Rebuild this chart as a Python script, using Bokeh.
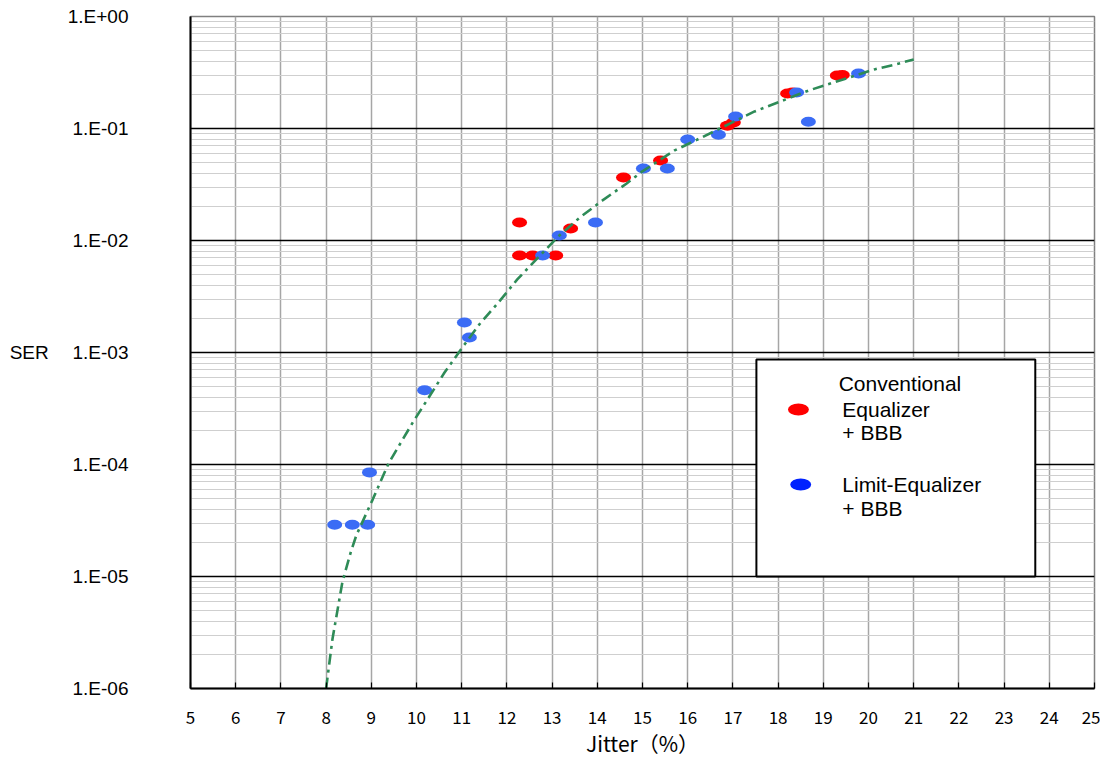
from bokeh.plotting import figure
from bokeh.models import (Range1d, FixedTicker, CustomJSTickFormatter, BoxAnnotation, Label)
from bokeh.embed import file_html
from bokeh.resources import INLINE

# ---------------- data ----------------
x_ticks = list(range(5, 26))
y_exps = [-6, -5, -4, -3, -2, -1, 0]
y_tick_labels = ["1.E-06", "1.E-05", "1.E-04", "1.E-03", "1.E-02", "1.E-01", "1.E+00"]

conv_x = [12.28, 12.28, 12.57, 13.08, 13.41, 14.58, 15.40, 16.88, 17.01, 18.21, 18.32, 19.31, 19.42]
conv_y = [0.0145, 0.00735, 0.00735, 0.00735, 0.0128, 0.0365, 0.0518, 0.106, 0.113, 0.205, 0.21, 0.297, 0.30]

lim_x = [8.19, 8.58, 8.92, 8.96, 10.18, 11.06, 11.17, 12.79, 13.16, 13.96, 15.02, 15.55, 16.00,
         16.68, 17.06, 18.41, 18.67, 19.78]
lim_y = [2.9e-5, 2.9e-5, 2.9e-5, 8.5e-5, 4.6e-4, 1.85e-3, 1.36e-3, 7.35e-3, 1.11e-2, 1.45e-2,
         4.4e-2, 4.4e-2, 7.97e-2, 8.8e-2, 0.128, 0.21, 0.115, 0.31]

fit_x = [8.0, 8.14, 8.36, 8.54, 8.67, 9.03, 9.38, 9.93, 10.27, 10.62, 11.0, 11.39, 11.81, 12.23,
         12.48, 13.14, 13.61, 14.14, 14.65, 14.98, 15.71, 16.31, 17.48, 18.67, 20.13, 20.58, 21.0]
fit_y = [1.0e-6, 2.75e-6, 8.9e-6, 1.62e-5, 2.34e-5, 4.86e-5, 1.02e-4, 2.42e-4, 3.96e-4, 6.62e-4,
         1.09e-3, 1.78e-3, 2.79e-3, 4.49e-3, 5.74e-3, 1.09e-2, 1.60e-2, 2.32e-2, 3.23e-2, 4.1e-2,
         6.37e-2, 8.32e-2, 0.142, 0.218, 0.337, 0.372, 0.413]

legend_names = [["Conventional", "Equalizer", "+ BBB"], ["Limit-Equalizer", "+ BBB"]]

# ---------------- figure ----------------
p = figure(width=1100, height=760, output_backend="svg", toolbar_location=None,
           y_axis_type="log", x_range=Range1d(5, 25), y_range=Range1d(1e-6, 1.0),
           min_border_left=190, min_border_right=6, min_border_top=16, min_border_bottom=72,
           background_fill_color="white", border_fill_color="white")
p.outline_line_color = "#808080"
p.outline_line_width = 1.5

xt = FixedTicker(ticks=x_ticks, minor_ticks=[])
decades = [10.0 ** e for e in y_exps]
minors = [m * 10.0 ** e for e in y_exps[:-1] for m in range(2, 10)]
yt = FixedTicker(ticks=decades, minor_ticks=minors)

p.xaxis.ticker = xt
p.yaxis.ticker = yt
p.xgrid.ticker = xt
p.ygrid.ticker = yt

p.xgrid.grid_line_color = "#a6a6a6"
p.xgrid.grid_line_width = 1.5
p.ygrid.grid_line_color = "#000000"
p.ygrid.grid_line_width = 1.5
p.ygrid.minor_grid_line_color = "#cfcfcf"
p.ygrid.minor_grid_line_width = 1.2

p.yaxis.formatter = CustomJSTickFormatter(args=dict(exps=y_exps, labels=y_tick_labels), code="""
const e = Math.round(Math.log10(tick));
const i = exps.indexOf(e);
return i >= 0 ? labels[i] : "";
""")

for ax in (p.xaxis[0], p.yaxis[0]):
    ax.axis_line_color = "black"
    ax.axis_line_width = 2
    ax.minor_tick_line_color = None

p.xaxis.major_tick_in = 6
p.xaxis.major_tick_out = 0
p.xaxis.major_tick_line_color = "black"
p.xaxis.major_tick_line_width = 1.2
p.xaxis.major_label_standoff = 22
p.xaxis.major_label_text_font = "Noto Sans CJK JP"
p.xaxis.major_label_text_font_size = "17px"
p.xaxis.major_label_text_color = "black"
p.xaxis.axis_label = "Jitter（%）"
p.xaxis.axis_label_text_font = "Noto Sans CJK JP"
p.xaxis.axis_label_text_font_size = "21px"
p.xaxis.axis_label_text_font_style = "normal"
p.xaxis.axis_label_text_color = "black"
p.xaxis.axis_label_standoff = 1

p.yaxis.major_tick_line_color = None
p.yaxis.major_tick_in = 0
p.yaxis.major_tick_out = 0
p.yaxis.major_label_standoff = 58
p.yaxis.major_label_text_font = "Liberation Sans"
p.yaxis.major_label_text_font_size = "19px"
p.yaxis.major_label_text_color = "black"
p.yaxis.axis_label = "SER"
p.yaxis.axis_label_orientation = "horizontal"
p.yaxis.axis_label_text_font = "Liberation Sans"
p.yaxis.axis_label_text_font_size = "19px"
p.yaxis.axis_label_text_font_style = "normal"
p.yaxis.axis_label_text_color = "black"
p.yaxis.axis_label_standoff = 16

# legend box (underlay so that its markers draw on top)
box = BoxAnnotation(left=17.52, right=23.69, top=10 ** -3.0625, bottom=1e-5,
                    fill_color="white", fill_alpha=1.0, line_color="black", line_alpha=1.0,
                    line_width=2, level="underlay")
p.add_layout(box)

# data
p.ellipse(conv_x, conv_y, width=15, height=10, width_units="screen", height_units="screen",
          fill_color="#ff0000", line_color=None)
p.ellipse(lim_x, lim_y, width=15, height=10, width_units="screen", height_units="screen",
          fill_color="#3b6cf5", line_color=None)
p.line(fit_x, fit_y, line_color="#2e8b57", line_width=2.6, line_dash="11 5 3 5")

# legend markers
p.ellipse([18.45], [10 ** -3.509], width=21, height=12, width_units="screen",
          height_units="screen", fill_color="#ff0000", line_color=None)
p.ellipse([18.50], [10 ** -4.179], width=21, height=12, width_units="screen",
          height_units="screen", fill_color="#0022ff", line_color=None)

leg_pos = [[(19.34, -3.277), (19.42, -3.51), (19.42, -3.714)],
           [(19.42, -4.179), (19.42, -4.393)]]
for names, poss in zip(legend_names, leg_pos):
    for t, (lx, le) in zip(names, poss):
        p.add_layout(Label(x=lx, y=10 ** le, text=t, text_font="Liberation Sans",
                           text_font_size="21px", text_baseline="middle", text_align="left",
                           text_color="black"))

open("out.html", "w").write(file_html(p, INLINE))
